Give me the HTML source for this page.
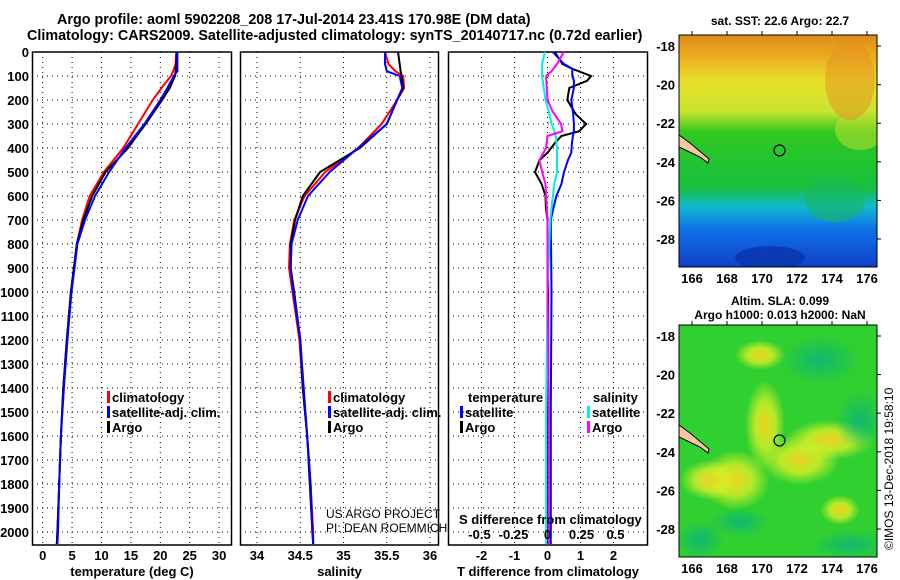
<!DOCTYPE html>
<html><head><meta charset="utf-8"><style>
html,body{margin:0;padding:0;background:#fff;}
svg{display:block;font-family:"Liberation Sans",sans-serif;}
.b{font-weight:bold;font-size:13px;}
</style></head><body>
<svg id="chart" width="900" height="580" viewBox="0 0 900 580">
<defs>
<linearGradient id="sst" x1="0" y1="0" x2="0" y2="1">
<stop offset="0" stop-color="#e08a18"/><stop offset="0.1" stop-color="#eab020"/><stop offset="0.2" stop-color="#e8e028"/>
<stop offset="0.33" stop-color="#c8e430"/><stop offset="0.42" stop-color="#30c820"/><stop offset="0.66" stop-color="#18c040"/>
<stop offset="0.74" stop-color="#10b8d0"/><stop offset="0.84" stop-color="#1070e8"/><stop offset="1" stop-color="#1040c8"/>
</linearGradient>
<radialGradient id="yb"><stop offset="0" stop-color="#f0d020"/><stop offset="0.5" stop-color="#d8f028" stop-opacity="0.8"/><stop offset="1" stop-color="#d8f028" stop-opacity="0"/></radialGradient>
<radialGradient id="db"><stop offset="0" stop-color="#10b870"/><stop offset="1" stop-color="#10b870" stop-opacity="0"/></radialGradient>
</defs>
<text class="b" x="57" y="24" style="font-size:14.35px">Argo profile: aoml 5902208_208 17-Jul-2014 23.41S 170.98E (DM data)</text>
<text class="b" x="27" y="40" style="font-size:14.35px">Climatology: CARS2009. Satellite-adjusted climatology: synTS_20140717.nc (0.72d earlier)</text>
<g id="panels"></g>
<g id="maps"></g>
<text x="893" y="550" transform="rotate(-90 893 550)" font-size="12">©IMOS 13-Dec-2018 19:58:10</text>
</svg>
<script>
// Data
const depths = [0,50,80,100,150,200,300,400,500,600,700,800,900,1000,1200,1400,1600,1800,2000,2050];
const tempArgo = [22.8,22.7,22.6,22.5,21.6,20.3,17.5,14.5,10.7,8.4,6.9,5.8,5.3,4.8,4.1,3.5,3.1,2.8,2.5,2.4];
const tempClim = [22.7,22.6,22.2,21.8,20.2,18.7,16.2,13.7,10.4,8.0,6.7,5.8,5.3,4.8,4.1,3.5,3.1,2.8,2.5,2.4];
const tempSat  = [22.9,22.9,22.9,22.3,21.2,20.0,17.3,14.1,11.3,8.9,7.2,5.9,5.4,4.9,4.2,3.6,3.1,2.8,2.6,2.5];
const salArgo = [35.63,35.65,35.66,35.67,35.69,35.62,35.50,35.19,34.73,34.53,34.44,34.39,34.39,34.43,34.50,34.53,34.58,34.61,34.64,34.65];
const salClim = [35.48,35.52,35.60,35.69,35.70,35.62,35.44,35.17,34.79,34.55,34.43,34.38,34.37,34.41,34.49,34.53,34.58,34.62,34.65,34.65];
const salSat  = [35.48,35.48,35.50,35.65,35.68,35.62,35.50,35.17,34.84,34.59,34.47,34.40,34.39,34.42,34.50,34.54,34.58,34.62,34.64,34.65];
const tdDepths = [0,50,70,100,120,150,200,260,300,330,350,380,420,450,500,550,600,650,700,1000,1500,2000,2050];
const tdArgo = [0.22,0.45,0.75,1.32,1.2,0.66,0.6,0.86,1.17,0.96,0.42,0.22,0,-0.24,-0.38,-0.18,-0.06,-0.05,0,0.02,0.02,0.02,0.02];
const tdSat  = [0.16,0.5,0.75,0.75,0.8,0.8,0.72,0.78,0.8,0.8,0.77,0.74,0.72,0.62,0.5,0.42,0.27,0.18,0.1,0.12,0.1,0.1,0.1];
const sdDepths = [0,50,80,100,200,250,300,330,350,400,450,500,550,600,700,1000,1500,2000,2050];
const sdArgo = [0.12,0.07,0.03,-0.01,0,0.04,0.1,0.11,0,-0.01,-0.06,-0.04,-0.015,-0.01,0,0,0.01,0.01,0.01];
const sdSat  = [-0.02,-0.04,-0.04,-0.04,-0.015,0.01,0.03,0.05,0.06,0.07,0.07,0.07,0.05,0.04,0.02,0,-0.01,-0.01,-0.01];
const depthTicks = [0,100,200,300,400,500,600,700,800,900,1000,1100,1200,1300,1400,1500,1600,1700,1800,1900,2000];
const tempTicks = [0,5,10,15,20,25,30];
const salTicks = [34,34.5,35,35.5,36];
const tdTicks = [-2,-1,0,1,2];
const sdTicks = [-0.5,-0.25,0,0.25,0.5];
const latTicks = [-18,-20,-22,-24,-26,-28];
const lonTicks = [166,168,170,172,174,176];

const NS='http://www.w3.org/2000/svg';
function mk(tag, attrs, parent, text){const e=document.createElementNS(NS,tag);for(const k in attrs)e.setAttribute(k,attrs[k]);if(text!==undefined)e.textContent=text;parent.appendChild(e);return e;}
const yD = d => 52 + 0.24*d;
const PT=52, PB=545;
const panels=[
 {x0:32,x1:232,sx:v=>42.7+5.88*v,ticks:tempTicks,title:'temperature (deg C)',name:'temperature-panel'},
 {x0:240,x1:439,sx:v=>257+86.5*(v-34),ticks:salTicks,title:'salinity',name:'salinity-panel'},
 {x0:448,x1:648,sx:v=>547.5+33*v,ticks:tdTicks,title:'T difference from climatology',name:'difference-panel'}
];
const gP=document.getElementById('panels');
panels.forEach((p,i)=>{
  const g=mk('g',{},gP);
  
  
  depthTicks.forEach(d=>{ if(d===0) return; const l=mk('line',{x1:p.x0,x2:p.x1,y1:yD(d),y2:yD(d),stroke:'#000','stroke-width':1,'stroke-dasharray':'1,4'},g);
     });
  p.ticks.forEach(t=>{const x=p.sx(t); const l=mk('line',{x1:x,x2:x,y1:PT,y2:PB,stroke:'#000','stroke-width':1,'stroke-dasharray':'1,4'},g);
     
    const tx=mk('text',{x:x,y:560,'text-anchor':'middle','class':'b'},g,String(t));
     });
  const r=mk('rect',{x:p.x0+0.5,y:PT,width:p.x1-p.x0-1,height:PB-PT,fill:'none',stroke:'#000','stroke-width':1.5},g);
   
  const tt=mk('text',{x:(p.x0+p.x1)/2,y:576,'text-anchor':'middle','class':'b'},g,p.title);
   
});
depthTicks.forEach(d=>{const t=mk('text',{x:29,y:yD(d)+5,'text-anchor':'end','class':'b'},gP,String(d));
   });
function line(ds,vs,sx,color,name,w){
  const pts=ds.map((d,i)=>sx(vs[i]).toFixed(1)+','+yD(d).toFixed(1)).join(' ');
  const pl=mk('polyline',{points:pts,fill:'none',stroke:color,'stroke-width':w||2},gP);
   
}
const sT=panels[0].sx, sS=panels[1].sx, sTD=panels[2].sx, sSD=v=>547.5+136*v;
line(depths,tempClim,sT,'#f00','temperature-climatology-line');
line(depths,tempArgo,sT,'#000','temperature-argo-line');
line(depths,tempSat,sT,'#00f','temperature-satellite-line');
line(depths,salClim,sS,'#f00','salinity-climatology-line');
line(depths,salArgo,sS,'#000','salinity-argo-line');
line(depths,salSat,sS,'#00f','salinity-satellite-line');
line(tdDepths,tdArgo,sTD,'#000','t-diff-argo-line');
line(tdDepths,tdSat,sTD,'#00f','t-diff-satellite-line');
line(sdDepths,sdSat,sSD,'#0ee','s-diff-satellite-line');
line(sdDepths,sdArgo,sSD,'#f0f','s-diff-argo-line');
const sdt=mk('text',{x:459,y:524,'class':'b'},gP,'S difference from climatology');
 
sdTicks.forEach(t=>{const tx=mk('text',{x:sSD(t),y:539,'text-anchor':'middle','class':'b'},gP,String(t));
   });
function leg(x,y,color,label,name){
  const r=mk('rect',{x:x,y:y-11,width:3,height:12,fill:color},gP);
   
  const t=mk('text',{x:x+5,y:y,'class':'b'},gP,label);
   
}
leg(107,402,'#f00','climatology','legend-climatology');
leg(107,417,'#00f','satellite-adj. clim.','legend-satellite-adj');
leg(107,432,'#000','Argo','legend-argo');
leg(328,402,'#f00','climatology','legend-sal-climatology');
leg(328,417,'#00f','satellite-adj. clim.','legend-sal-satellite-adj');
leg(328,432,'#000','Argo','legend-sal-argo');
let t1=mk('text',{x:468,y:402,'class':'b'},gP,'temperature');  
let t2=mk('text',{x:593,y:402,'class':'b'},gP,'salinity');  
leg(460,417,'#00f','satellite','legend-t-satellite');
leg(460,432,'#000','Argo','legend-t-argo');
leg(587,417,'#0ee','satellite','legend-s-satellite');
leg(587,432,'#f0f','Argo','legend-s-argo');
let c1=mk('text',{x:326,y:518,'font-size':'12'},gP,'US ARGO PROJECT');  
let c2=mk('text',{x:326,y:532,'font-size':'12'},gP,'PI: DEAN ROEMMICH');  

const gM=document.getElementById('maps');
function map(top,bottom,latY0,kind,name,title){
  const g=mk('g',{},gM);
   
  const cp=mk('clipPath',{id:'cp'+kind},g); mk('rect',{x:679,y:top,width:198,height:bottom-top},cp);
  const inner=mk('g',{'clip-path':'url(#cp'+kind+')'},g);
  if(kind==='sst'){
    mk('rect',{x:679,y:top,width:198,height:bottom-top,fill:'url(#sst)'},inner);
    mk('ellipse',{cx:835,cy:200,rx:30,ry:22,fill:'#18b860',opacity:0.6},inner);
    mk('ellipse',{cx:860,cy:130,rx:25,ry:20,fill:'#c8e030',opacity:0.5},inner);
    mk('ellipse',{cx:770,cy:258,rx:35,ry:12,fill:'#0830a8',opacity:0.7},inner);
    mk('ellipse',{cx:850,cy:80,rx:25,ry:40,fill:'#e49020',opacity:0.5},inner);
  } else {
    mk('rect',{x:679,y:top,width:198,height:bottom-top,fill:'#30d030'},inner);
    [[765,425,20,45],[735,480,35,30],[800,460,40,25],[830,440,45,20],[840,510,20,15],[710,480,30,20],[760,355,25,15]].forEach(e=>mk('ellipse',{cx:e[0],cy:e[1],rx:e[2],ry:e[3],fill:'url(#yb)'},inner));
    [[740,522,30,15],[820,360,40,25],[860,420,25,30],[850,545,40,15],[700,540,25,20]].forEach(e=>mk('ellipse',{cx:e[0],cy:e[1],rx:e[2],ry:e[3],fill:'url(#db)'},inner));
  }
  const isl=mk('polygon',{points:`679,${top+100} 679,${top+112} 700,${top+122} 708,${top+128} 709,${top+124} 690,${top+108}`,fill:'#f5c8a0',stroke:'#000','stroke-width':1},inner);
   
  const c=mk('circle',{cx:779.5,cy:latY0+19.3*5.41,r:5.5,fill:'none',stroke:'#000','stroke-width':1.2},g);
   
  const fr=mk('rect',{x:679,y:top,width:198,height:bottom-top,fill:'none',stroke:'#000','stroke-width':1},g);
   
  latTicks.forEach(l=>{const y=latY0+19.3*(-18-l);
    mk('line',{x1:877,x2:881,y1:y,y2:y,stroke:'#000'},g);
    const t=mk('text',{x:675,y:y+5,'text-anchor':'end','class':'b'},g,String(l));
     });
  lonTicks.forEach(l=>{const x=692+17.5*(l-166);
    mk('line',{x1:x,x2:x,y1:top-4,y2:top,stroke:'#000'},g);
    const t=mk('text',{x:x,y:bottom+16,'text-anchor':'middle','class':'b'},g,String(l));
     });
  title.forEach((s,i)=>{const t=mk('text',{x:780,y:(kind==='sst'?25:305)+i*14,'text-anchor':'middle','class':'b'},g,s);
    t.style.fontSize='12px';
     });
}
map(35,267,46,'sst','sst-map',['sat. SST: 22.6 Argo: 22.7']);
map(325,557,336,'sla','sla-map',['Altim. SLA: 0.099','Argo h1000: 0.013 h2000: NaN']);
</script>
</body></html>
